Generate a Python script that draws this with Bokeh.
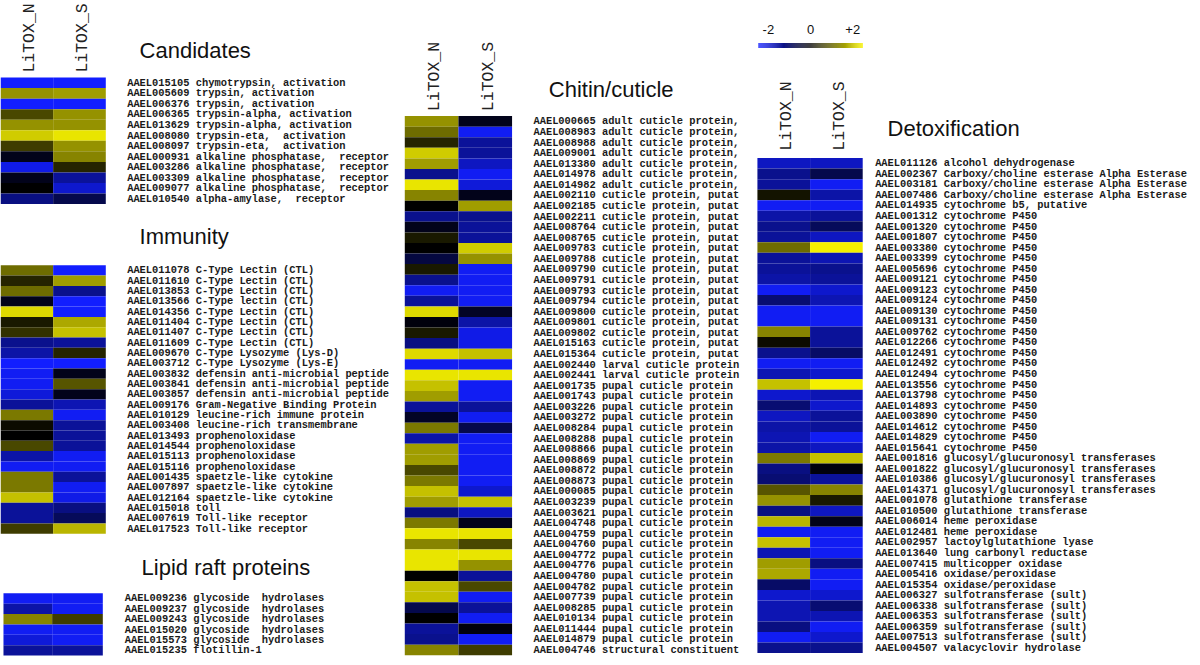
import numpy as np
from bokeh.plotting import figure
from bokeh.models import ColumnDataSource, LinearColorMapper, Range1d
from bokeh.core.properties import value
from bokeh.embed import file_html
from bokeh.resources import INLINE

# ---------------- data ----------------
samples = ["LiTOX_N", "LiTOX_S"]
scale_ticks = ["-2", "0", "+2"]
scale_tick_values = [-2, 0, 2]
NB = "\u00a0"  # keeps the double gaps of the original labels in SVG text

cand_labels = [
    "AAEL015105 chymotrypsin, activation",
    "AAEL005609 trypsin, activation",
    "AAEL006376 trypsin, activation",
    "AAEL006365 trypsin-alpha, activation",
    "AAEL013629 trypsin-alpha, activation",
    "AAEL008080 trypsin-eta," + NB + " activation",
    "AAEL008097 trypsin-eta," + NB + " activation",
    "AAEL000931 alkaline phosphatase," + NB + " receptor",
    "AAEL003286 alkaline phosphatase," + NB + " receptor",
    "AAEL003309 alkaline phosphatase," + NB + " receptor",
    "AAEL009077 alkaline phosphatase," + NB + " receptor",
    "AAEL010540 alpha-amylase," + NB + " receptor",
]
cand_N = [-2.0, 1.2, -2.0, 0.6, 1.2, 1.7, 0.5, -0.2, -1.8, -0.2, 0.0, -1.0]
cand_S = [-2.0, 1.3, -2.0, 1.2, 1.2, 1.9, 1.2, 1.1, 0.3, -1.2, -1.6, -0.6]

imm_labels = [
    "AAEL011078 C-Type Lectin (CTL)",
    "AAEL011610 C-Type Lectin (CTL)",
    "AAEL013853 C-Type Lectin (CTL)",
    "AAEL013566 C-Type lectin (CTL)",
    "AAEL014356 C-Type Lectin (CTL)",
    "AAEL011404 C-Type Lectin (CTL)",
    "AAEL011407 C-Type Lectin (CTL)",
    "AAEL011609 C-Type Lectin (CTL)",
    "AAEL009670 C-Type Lysozyme (Lys-D)",
    "AAEL003712 C-Type Lysozyme (Lys-E)",
    "AAEL003832 defensin anti-microbial peptide",
    "AAEL003841 defensin anti-microbial peptide",
    "AAEL003857 defensin anti-microbial peptide",
    "AAEL009176 Gram-Negative Binding Protein",
    "AAEL010129 leucine-rich immune protein",
    "AAEL003408 leucine-rich transmembrane",
    "AAEL013493 prophenoloxidase",
    "AAEL014544 prophenoloxidase",
    "AAEL015113 prophenoloxidase",
    "AAEL015116 prophenoloxidase",
    "AAEL001435 spaetzle-like cytokine",
    "AAEL007897 spaetzle-like cytokine",
    "AAEL012164 spaetzle-like cytokine",
    "AAEL015018 toll",
    "AAEL007619 Toll-like receptor",
    "AAEL017523 Toll-like receptor",
]
imm_N = [0.9, 0.3, 0.9, -0.2, 1.8, 0.2, 0.4, -1.1, -1.3, -2.0, -1.9, -1.9, -1.7,
         -1.2, 1.0, 0.1, 0.0, 0.6, -1.3, -1.9, 1.0, 1.0, 1.6, -1.2, -1.2, 0.5]
imm_S = [-2.0, 1.3, -1.1, -2.0, -2.0, 1.4, 1.6, -1.2, 0.3, -2.0, -0.2, 0.7, -0.2,
         -1.4, -1.9, -1.2, -1.2, -1.2, -1.9, -1.9, -1.2, -1.9, -1.8, -1.0, -0.7, 1.5]

lip_labels = [
    "AAEL009236 glycoside" + NB + " hydrolases",
    "AAEL009237 glycoside" + NB + " hydrolases",
    "AAEL009243 glycoside" + NB + " hydrolases",
    "AAEL015020 glycoside" + NB + " hydrolases",
    "AAEL015573 glycoside" + NB + " hydrolases",
    "AAEL015235 flotillin-1",
]
lip_N = [-1.9, -1.3, 1.1, -1.9, -1.7, -1.2]
lip_S = [-1.9, -1.9, 0.5, -1.9, -1.9, -1.2]

chi_labels = (
    ["AAEL000665 adult cuticle protein,",
     "AAEL008983 adult cuticle protein,",
     "AAEL008988 adult cuticle protein,",
     "AAEL009001 adult cuticle protein,",
     "AAEL013380 adult cuticle protein,",
     "AAEL014978 adult cuticle protein,",
     "AAEL014982 adult cuticle protein,"]
    + ["AAEL%s cuticle protein, putat" % g for g in
       ["002110", "002185", "002211", "008764", "008765", "009783", "009788",
        "009790", "009791", "009793", "009794", "009800", "009801", "009802",
        "015163", "015364"]]
    + ["AAEL002440 larval cuticle protein", "AAEL002441 larval cuticle protein"]
    + ["AAEL%s pupal cuticle protein" % g for g in
       ["001735", "001743", "003226", "003272", "008284", "008288", "008866",
        "008869", "008872", "008873", "000085", "003239", "003621", "004748",
        "004759", "004760", "004772", "004776", "004780", "004782", "007739",
        "008285", "010134", "011444", "014879"]]
    + ["AAEL004746 structural constituent"]
)
chi_N = [1.2, 0.9, 0.3, 1.7, 1.3, -1.1, 1.9, 1.1, 0.0, -1.1, -0.2, 0.2, 0.0,
         -0.5, 0.2, -1.1, -1.9, -1.2, 1.8, -0.1, 0.2, -1.0, 1.8, -1.9, 1.9,
         1.6, 1.3, -1.2, -0.3, 1.0, -1.3, 1.3, 1.3, 0.6, 1.0, 1.6, 1.3, -1.0,
         1.0, 1.9, 1.1, 1.9, 1.9, 0.0, 1.6, 1.6, -0.6, 0.0, -1.2, -1.1, 1.1]
chi_S = [-0.2, -1.9, -1.2, -1.2, -1.5, -1.9, -1.7, -0.2, 1.3, -1.1, -1.2, -1.2,
         1.7, 1.2, -1.9, -1.9, -1.9, -1.9, -0.3, -1.3, -1.8, -1.8, 1.6, -1.9,
         1.9, -1.9, -1.9, -1.2, -1.9, -0.6, -1.9, -1.9, -1.9, -1.9, -1.9, -1.6,
         1.6, -1.5, -0.2, 1.9, 0.6, 1.9, 1.2, -1.2, 0.6, -1.9, -1.2, -1.9,
         -0.1, -1.9, 0.5]

det_labels = (
    ["AAEL011126 alcohol dehydrogenase",
     "AAEL002367 Carboxy/choline esterase Alpha Esterase",
     "AAEL003181 Carboxy/choline esterase Alpha Esterase",
     "AAEL007486 Carboxy/choline esterase Alpha Esterase",
     "AAEL014935 cytochrome b5, putative"]
    + ["AAEL%s cytochrome P450" % g for g in
       ["001312", "001320", "001807", "003380", "003399", "005696", "009121",
        "009123", "009124", "009130", "009131", "009762", "012266", "012491",
        "012492", "012494", "013556", "013798", "014893", "003890", "014612",
        "014829", "015641"]]
    + ["AAEL%s glucosyl/glucuronosyl transferases" % g for g in
       ["001816", "001822", "010386", "014371"]]
    + ["AAEL001078 glutathione transferase",
       "AAEL010500 glutathione transferase",
       "AAEL006014 heme peroxidase",
       "AAEL012481 heme peroxidase",
       "AAEL002957 lactoylglutathione lyase",
       "AAEL013640 lung carbonyl reductase",
       "AAEL007415 multicopper oxidase",
       "AAEL005416 oxidase/peroxidase",
       "AAEL015354 oxidase/peroxidase"]
    + ["AAEL%s sulfotransferase (sult)" % g for g in
       ["006327", "006338", "006353", "006359", "007513"]]
    + ["AAEL004507 valacyclovir hydrolase"]
)
det_N = [-1.5, -1.1, -1.2, 0.15, -1.9, -1.3, -1.1, -1.2, 0.9, -1.2, -1.2, -1.3,
         -1.9, -0.9, -1.9, -1.9, 1.1, 0.1, -1.1, -1.9, -1.4, 1.6, -1.6, -0.9,
         -1.5, -1.3, -1.4, -1.3, 1.0, -1.0, -0.9, 0.7, 1.2, -1.0, 1.5, -1.9,
         1.6, -1.4, 1.3, 1.4, -0.8, -1.6, -1.4, -1.4, -1.0, -1.9, -1.1]
det_S = [-1.5, -0.6, -1.9, -1.3, -1.9, -1.2, -0.7, -1.5, 2.0, -1.4, -1.1, -1.2,
         -1.6, -1.4, -1.9, -1.9, -1.2, -1.2, -0.8, -1.9, -1.6, 2.0, -1.4, -1.6,
         -1.2, -1.2, -1.9, -1.5, 1.6, -0.1, -1.2, 1.1, 0.2, -1.5, -0.2, -1.9,
         -1.9, -1.9, -1.0, -1.9, -1.9, -1.6, -0.9, -1.4, -1.9, -1.6, -1.1]

# ---------------- styling / layout ----------------
def ramp(c0, c1, n):
    return [(c0[0] + (c1[0] - c0[0]) * t, c0[1] + (c1[1] - c0[1]) * t,
             c0[2] + (c1[2] - c0[2]) * t) for t in np.linspace(0, 1, n)]

BLUE, BLACK, YELLOW = (18, 30, 255), (0, 0, 0), (245, 240, 0)
pal = ramp(BLUE, BLACK, 128) + ramp(BLACK, YELLOW, 128)[1:]
palette = ["#%02x%02x%02x" % tuple(int(round(c)) for c in rgb) for rgb in pal]
mapper = LinearColorMapper(palette=palette, low=-2, high=2)

W, H = 1192, 657
p = figure(width=W, height=H, output_backend="svg", toolbar_location=None,
           x_range=Range1d(0, 1200), y_range=Range1d(665, 0),
           x_axis_type=None, y_axis_type=None, min_border=0,
           background_fill_color="white", border_fill_color="white")
p.outline_line_color = None
p.grid.visible = False

LABEL_FONT = value("Liberation Mono")
SANS = value("Liberation Sans")

panels = [
    # labels, N, S, x0, xsplit, x1, y0, row_h, label_x, header_y, title, title_x, title_y(center)
    (cand_labels, cand_N, cand_S, 0, 53, 106, 78, 10.67, 127.5, 73, "Candidates", 140, 51),
    (imm_labels, imm_N, imm_S, 0, 53, 106, 268, 10.45, 127.5, None, "Immunity", 140, 239),
    (lip_labels, lip_N, lip_S, 3, 52, 103, 600, 10.5, 125, None, "Lipid raft proteins", 142, 574),
    (chi_labels, chi_N, chi_S, 407, 461, 515, 117, 10.7, 536.5, 112, "Chitin/cuticle", 552, 90),
    (det_labels, det_N, det_S, 762, 815, 868, 159.5, 10.66, 880.5, 152, "Detoxification", 893, 130),
]

for (labels, vn, vs, x0, xs, x1, y0, rh, lx, hy, title, tx, ty) in panels:
    n = len(labels)
    idx = np.arange(n)
    tops = y0 + idx * rh
    bots = tops + rh
    src = ColumnDataSource(dict(
        left=[x0] * n + [xs] * n,
        right=[xs] * n + [x1] * n,
        top=list(tops) * 2,
        bottom=list(bots) * 2,
        v=list(vn) + list(vs),
    ))
    p.quad(left="left", right="right", top="top", bottom="bottom", source=src,
           fill_color={"field": "v", "transform": mapper}, line_color=None)
    p.text(x=[lx] * n, y=list(tops + rh / 2), text=labels,
           text_font=LABEL_FONT, text_font_size="10.4px", text_font_style="bold",
           text_baseline="middle", text_align="left", text_color="#1a1a1a")
    p.text(x=[tx], y=[ty], text=[title], text_font=SANS, text_font_size="22px",
           text_baseline="middle", text_align="left", text_color="#111111")
    if hy is not None:
        p.text(x=[(x0 + xs) / 2 + 3, (xs + x1) / 2 + 3], y=[hy, hy], text=samples,
               angle=np.pi / 2, text_font=LABEL_FONT, text_font_size="16.5px",
               text_baseline="middle", text_align="left", text_color="#222222")

# colour key
cb_x0, cb_x1, cb_y0, cb_y1 = 763, 868, 43, 48
steps = np.linspace(-2, 2, 106)
dx = (cb_x1 - cb_x0) / len(steps)
k = np.arange(len(steps))
cb_src = ColumnDataSource(dict(
    left=list(cb_x0 + k * dx), right=list(cb_x0 + (k + 1) * dx),
    top=[cb_y0] * len(steps), bottom=[cb_y1] * len(steps), v=list(steps)))
p.quad(left="left", right="right", top="top", bottom="bottom", source=cb_src,
       fill_color={"field": "v", "transform": mapper}, line_color=None)
tick_x = [cb_x0 + 10 + (t + 2) / 4 * (cb_x1 - cb_x0 - 20) for t in scale_tick_values]
p.text(x=tick_x, y=[29] * 3, text=scale_ticks, text_font=SANS,
       text_font_size="13px", text_align="center", text_baseline="middle",
       text_color="#111111")

open("out.html", "w").write(file_html(p, INLINE))
